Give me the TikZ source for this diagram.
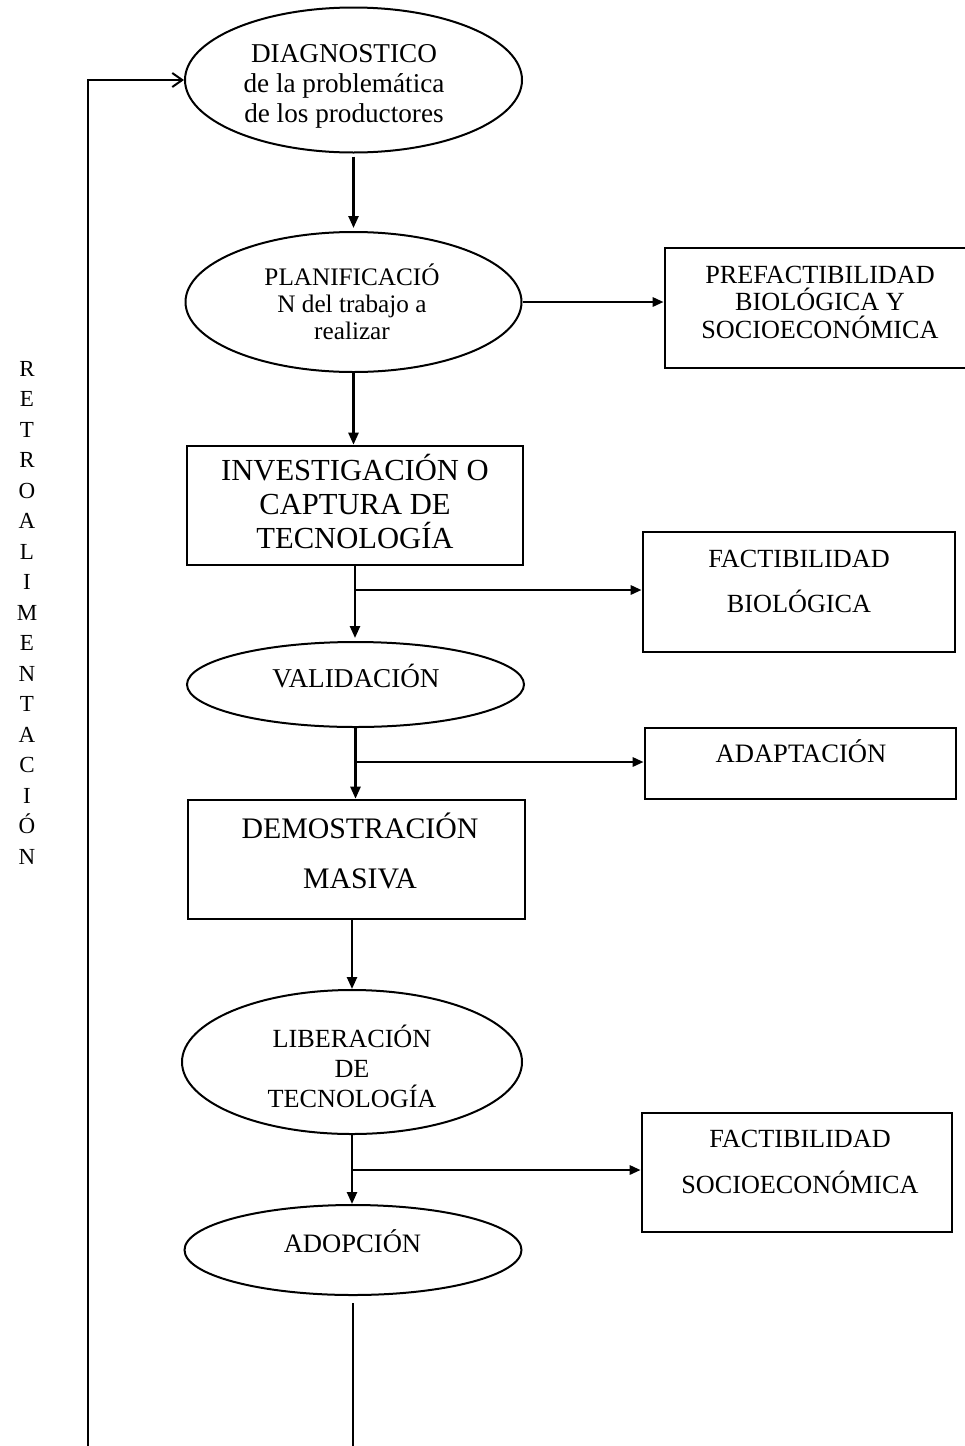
\documentclass[tikz,border=0pt]{standalone}
\usepackage{fontspec}
\setmainfont{Liberation Serif}
\usetikzlibrary{arrows.meta,shapes.geometric}
% centred stack of lines, baseline = first line, fixed line distance
\newcommand\stk[1]{\vtop{\lineskiplimit=-\maxdimen\lineskip=0pt\halign{\hfil##\hfil\cr#1\crcr}}}
\newcommand\fs[2]{\fontsize{#1}{#2}\selectfont}

\begin{document}
\begin{tikzpicture}[x=0.5pt,y=-0.5pt,
  oval/.style={draw, ellipse, line width=1pt, inner sep=0pt},
  panel/.style={draw, rectangle, line width=1.3pt, inner sep=0pt},
  lbl/.style={anchor=base, inner sep=0pt},
  flow/.style={line width=1.2pt, -{Triangle[length=6pt,width=5pt]}},
  branch/.style={line width=1.4pt, -{Triangle[length=5.5pt,width=4.5pt]}},
  plain/.style={line width=1pt},
  loop/.style={line width=1pt, -{Straight Barb[length=5pt,width=7pt]}}]
\useasboundingbox (0,0) rectangle (964,1446);

% stages of the process
\node[oval, minimum width=168.5pt, minimum height=72.5pt] (diag) at (353.5,80) {};
\node[oval, minimum width=168pt, minimum height=70pt] (plan) at (353.5,302) {};
\node[panel, minimum width=152pt, minimum height=60pt] (prefac) at (817,308) {};
\node[panel, minimum width=168pt, minimum height=59.5pt] (invest) at (355,505.5) {};
\node[panel, minimum width=156pt, minimum height=60pt] (factbio) at (799,592) {};
\node[oval, minimum width=168.5pt, minimum height=42.5pt] (valid) at (355.5,684.5) {};
\node[panel, minimum width=155.5pt, minimum height=35.5pt] (adapt) at (800.5,763.5) {};
\node[panel, minimum width=168.5pt, minimum height=59.5pt] (demo) at (356.5,859.5) {};
\node[oval, minimum width=170pt, minimum height=72pt] (liber) at (352,1062) {};
\node[panel, minimum width=155pt, minimum height=59.5pt] (factsoc) at (797,1172.5) {};
\node[oval, minimum width=168.5pt, minimum height=45pt] (adop) at (353,1250) {};

% texts
\node[lbl, font=\fs{13.6}{15}] (diagt) at (344,62) {\stk{DIAGNOSTICO\cr de la problemática\cr de los productores}};
\node[lbl, font=\fs{12.6}{13.5}] (plant) at (352,285) {\stk{PLANIFICACIÓ\cr N del trabajo a\cr realizar}};
\node[lbl, font=\fs{13.1}{13.75}] (prefact) at (820,283) {\stk{PREFACTIBILIDAD\cr BIOLÓGICA Y\cr SOCIOECONÓMICA}};
\node[lbl, font=\fs{15.3}{17}] (investt) at (355,480) {\stk{INVESTIGACIÓN O\cr CAPTURA DE\cr TECNOLOGÍA}};
\node[lbl, font=\fs{13.1}{22.5}] (factbiot) at (799,567) {\stk{FACTIBILIDAD\cr BIOLÓGICA}};
\node[lbl, font=\fs{13.6}{15}] (validt) at (356,687) {VALIDACIÓN};
\node[lbl, font=\fs{13.3}{15}] (adaptt) at (801,762) {ADAPTACIÓN};
\node[lbl, font=\fs{14.9}{25}] (demot) at (360,838) {\stk{DEMOSTRACIÓN\cr MASIVA}};
\node[lbl, font=\fs{13.1}{15}] (libert) at (352,1047) {\stk{LIBERACIÓN\cr DE\cr TECNOLOGÍA}};
\node[lbl, font=\fs{13.1}{23}] (factsoct) at (800,1147) {\stk{FACTIBILIDAD\cr SOCIOECONÓMICA}};
\node[lbl, font=\fs{13.3}{15}] (adopt) at (352.5,1252) {ADOPCIÓN};
\node[lbl, font=\fs{11.5}{15.25}] (retro) at (27,376) {\stk{R\cr E\cr T\cr R\cr O\cr A\cr L\cr I\cr M\cr E\cr N\cr T\cr A\cr C\cr I\cr Ó\cr N}};

% main flow
\draw[flow] ([yshift=-1.5pt]diag.south) -- ([yshift=1.5pt]plan.north);
\draw[flow] (plan.south) -- (plan.south |- invest.north);
\draw[branch] (plan.east) -- (plan.east -| prefac.west);
\draw[flow] (invest.south) -- ([yshift=1.5pt]invest.south |- valid.north);
\coordinate (j1) at (invest.south |- 0,590);
\draw[branch] (j1) -- (j1 -| factbio.west);
\draw[flow] (valid.south) -- (valid.south |- demo.north);
\coordinate (j2) at (valid.south |- 0,762);
\draw[branch] (j2) -- (j2 -| adapt.west);
\draw[flow] (liber.north |- demo.south) -- (liber.north);
\draw[flow] (liber.south) -- (liber.south |- adop.north);
\coordinate (j3) at (liber.south |- 0,1170);
\draw[branch] (j3) -- (j3 -| factsoc.west);
\coordinate (tail) at (353,1446);
\draw[plain] ([yshift=-3.5pt]adop.south) -- (tail);

% feedback loop
\coordinate (fb) at (88,1446);
\draw[loop] (fb) |- (diag.west);
\end{tikzpicture}
\end{document}
